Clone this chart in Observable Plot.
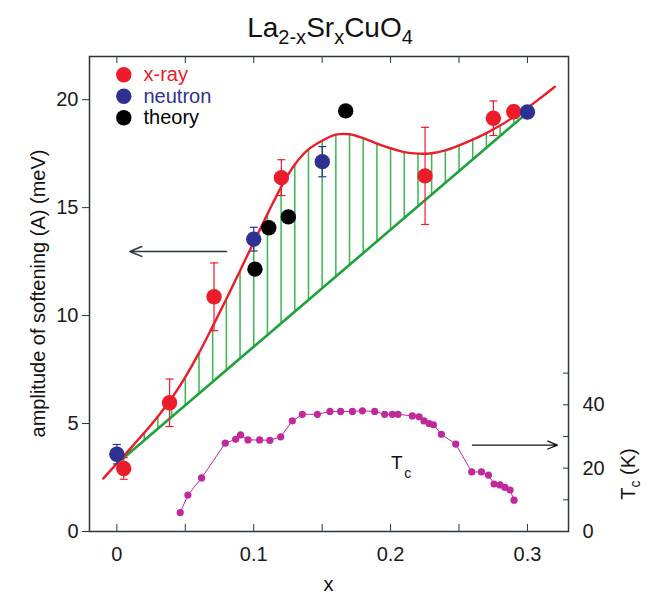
<!DOCTYPE html>
<html><head><meta charset="utf-8">
<script src="https://cdn.jsdelivr.net/npm/d3@7"></script>
<script src="https://cdn.jsdelivr.net/npm/@observablehq/plot@0.6"></script>
<style>
html,body{margin:0;padding:0;background:#fff;}
#chart{width:650px;height:594px;}
</style></head><body><div id="chart"></div>
<script>
const FONT = "'Liberation Sans', Arial, Helvetica, sans-serif";
const RED = "#ec1c2a", BLUE = "#2e3192", GREEN = "#1fa23c", HATCH = "#3db54e", MAGENTA = "#c0289b", AXIS = "#2a3538";

// x-ray data (amplitude of softening, meV) with error bars
const xrayX = [0.005, 0.0385, 0.071, 0.1202, 0.2252, 0.2751, 0.290];
const xrayY = [2.92, 5.96, 10.87, 16.39, 16.47, 19.14, 19.44];
const xrayErr = [0.5, 1.1, 1.57, 0.83, 2.25, 0.8, 0.3];
// neutron data
const neutronX = [0.0, 0.1, 0.1501, 0.300];
const neutronY = [3.58, 13.54, 17.13, 19.43];
const neutronErr = [0.45, 0.55, 0.7, 0];
// theory
const theoryX = [0.1009, 0.111, 0.1253, 0.1672];
const theoryY = [12.15, 14.07, 14.57, 19.48];
// red fitted curve
const fitX = [-0.01, 0.00, 0.01, 0.02, 0.03, 0.04, 0.05, 0.06, 0.07, 0.08, 0.09, 0.10, 0.11, 0.12, 0.13, 0.14, 0.15, 0.16, 0.17, 0.18, 0.19, 0.20, 0.21, 0.22, 0.23, 0.24, 0.25, 0.26, 0.27, 0.28, 0.29, 0.30, 0.31, 0.32];
const fitY = [2.45, 3.15, 3.85, 4.57, 5.33, 6.17, 7.15, 8.27, 9.5, 10.77, 12.08, 13.4, 14.7, 15.95, 17.0, 17.7, 18.1, 18.38, 18.4, 18.22, 17.97, 17.75, 17.57, 17.5, 17.52, 17.65, 17.88, 18.15, 18.45, 18.8, 19.2, 19.62, 20.1, 20.6];
// green straight baseline (end points)
const baseX = [0.003, 0.300];
const baseY = [3.3, 19.4];
// Tc (K) vs x
const tcX = [0.0463, 0.0519, 0.0619, 0.0792, 0.0868, 0.0904, 0.0958, 0.1043, 0.1118, 0.1197, 0.1282, 0.1355, 0.1465, 0.1557, 0.1635, 0.1721, 0.1794, 0.1884, 0.1957, 0.2013, 0.2054, 0.2159, 0.2208, 0.2244, 0.2281, 0.2313, 0.2371, 0.2476, 0.2593, 0.2664, 0.2715, 0.2756, 0.2800, 0.2836, 0.2873, 0.2902];
const tcK = [6.0, 11.5, 16.9, 27.9, 29.1, 30.5, 28.9, 28.9, 28.8, 29.9, 34.9, 37.0, 37.0, 37.9, 37.9, 37.9, 38.1, 37.9, 37.0, 37.0, 37.0, 36.5, 36.2, 34.9, 34.1, 33.7, 30.7, 27.6, 18.8, 18.8, 17.8, 15.0, 14.7, 13.9, 13.1, 9.9];
// axes ticks
const xTicks = [0, 0.05, 0.1, 0.15, 0.2, 0.25, 0.3];
const xLabelTicks = [0, 0.1, 0.2, 0.3];
const yTicks = [0, 5, 10, 15, 20];
const tcTicks = [0, 10, 20, 30, 40, 50];
const tcLabelTicks = [0, 20, 40];
// legend
const legendLabels = ["x-ray", "neutron", "theory"];
const legendColors = [RED, BLUE, "#000"];
// annotations
const arrowLeft = {x1: 0.0802, x2: 0.0095, y: 12.97};
const arrowRight = {x1: 0.2598, x2: 0.3219, k: 27.3};
const tcLabel = {x: 0.2045, k: 21.6};

// twin-axis mapping: meV per K on the shared vertical scale
const MEV_PER_K = 0.1467;

const xray = xrayX.map((x, i) => ({x, y: xrayY[i], e: xrayErr[i]}));
const neutron = neutronX.map((x, i) => ({x, y: neutronY[i], e: neutronErr[i]}));
const theory = theoryX.map((x, i) => ({x, y: theoryY[i]}));
const fit = fitX.map((x, i) => ({x, y: fitY[i]}));
const base = baseX.map((x, i) => ({x, y: baseY[i]}));
const baseAt = x => baseY[0] + (x - baseX[0]) * (baseY[1] - baseY[0]) / (baseX[1] - baseX[0]);
const hatch = fit.filter(d => d.x >= 0.0099 && d.x <= 0.2901).map(d => ({x: d.x, lo: baseAt(d.x), hi: d.y}));
const tc = tcX.map((x, i) => ({x, y: tcK[i] * MEV_PER_K}));

const cap = {draw(ctx, size) { const w = Math.sqrt(size / Math.PI); ctx.moveTo(-w, 0); ctx.lineTo(w, 0); }};
function errorMarks(data, color) {
  const d = data.filter(p => p.e > 0);
  return [
    Plot.ruleX(d, {x: "x", y1: p => p.y - p.e, y2: p => p.y + p.e, stroke: color, strokeWidth: 1.2}),
    Plot.dot(d, {x: "x", y: p => p.y + p.e, symbol: cap, r: 4, stroke: color, strokeWidth: 1.2, fill: "none"}),
    Plot.dot(d, {x: "x", y: p => p.y - p.e, symbol: cap, r: 4, stroke: color, strokeWidth: 1.2, fill: "none"})
  ];
}

const chart = Plot.plot({
  width: 650, height: 594,
  marginLeft: 89, marginRight: 82, marginTop: 56, marginBottom: 63,
  x: {domain: [-0.02, 0.33]},
  y: {domain: [0, 22]},
  style: {fontFamily: FONT, fontSize: "20px", color: "#1a1a1a", background: "white"},
  marks: [
    Plot.ruleX(hatch, {x: "x", y1: "lo", y2: "hi", stroke: HATCH, strokeWidth: 1.5}),
    Plot.line(base, {x: "x", y: "y", stroke: GREEN, strokeWidth: 2.6}),
    Plot.line(fit, {x: "x", y: "y", stroke: RED, strokeWidth: 2.4, curve: "catmull-rom"}),
    Plot.line(tc, {x: "x", y: "y", stroke: MAGENTA, strokeWidth: 1}),
    Plot.dot(tc, {x: "x", y: "y", r: 3.6, fill: MAGENTA}),
    ...errorMarks(xray, RED),
    ...errorMarks(neutron, BLUE),
    Plot.dot(xray, {x: "x", y: "y", r: 7.7, fill: RED}),
    Plot.dot(neutron, {x: "x", y: "y", r: 7.7, fill: BLUE}),
    Plot.dot(theory, {x: "x", y: "y", r: 7.7, fill: "#000"}),
    // arrows
    Plot.arrow([arrowLeft], {x1: "x1", x2: "x2", y1: "y", y2: "y", stroke: "#2d3b3c", strokeWidth: 1.6, headLength: 12, headAngle: 45}),
    Plot.arrow([arrowRight], {x1: "x1", x2: "x2", y1: d => d.k * MEV_PER_K, y2: d => d.k * MEV_PER_K, stroke: "#111", strokeWidth: 1.3, headLength: 12, headAngle: 45}),
    // Tc label
    Plot.text([tcLabel], {x: "x", y: d => d.k * MEV_PER_K, text: () => "T", fontSize: 19, fill: "#111", lineAnchor: "middle"}),
    Plot.text([tcLabel], {x: "x", y: d => d.k * MEV_PER_K, text: () => "c", fontSize: 14, fill: "#111", dx: 11, dy: 10, lineAnchor: "middle"}),
    // legend
    ...legendLabels.map((lab, i) => Plot.dot([lab], {frameAnchor: "top-left", dx: 34.3, dy: 18.3 + i * 21.5, r: 7.7, fill: legendColors[i]})),
    ...legendLabels.map((lab, i) => Plot.text([lab], {frameAnchor: "top-left", dx: 54, dy: 18.3 + i * 21.5, text: d => d, fill: legendColors[i], fontSize: 20, textAnchor: "start", lineAnchor: "middle"})),
    // axes
    Plot.axisX({anchor: "bottom", ticks: xTicks, tickSize: -7, tickFormat: () => "", label: null, stroke: AXIS}),
    Plot.axisX({anchor: "top", ticks: xTicks, tickSize: -6, tickFormat: () => "", label: null, stroke: AXIS}),
    Plot.axisX({anchor: "bottom", ticks: xLabelTicks, tickSize: 0, tickPadding: 15, tickFormat: d => String(d), label: null, fontSize: 20}),
    Plot.axisY({anchor: "left", ticks: yTicks, tickSize: 7, tickPadding: 4, tickFormat: d => String(d), label: null, fontSize: 20, stroke: AXIS}),
    Plot.axisY({anchor: "right", ticks: tcTicks.map(k => k * MEV_PER_K), tickSize: -6, tickFormat: () => "", label: null, stroke: AXIS}),
    Plot.axisY({anchor: "right", ticks: tcLabelTicks.map(k => k * MEV_PER_K), tickSize: 0, tickPadding: 14, tickFormat: v => String(Math.round(v / MEV_PER_K)), label: null, fontSize: 20}),
    Plot.frame({stroke: AXIS, strokeWidth: 1.5})
  ]
});

const svg = d3.select(chart);
// title
const t = svg.append("text").attr("x", 330).attr("y", 37).attr("text-anchor", "middle")
  .attr("font-family", FONT).attr("font-size", 28).attr("fill", "#111");
t.append("tspan").text("La");
t.append("tspan").attr("dy", 7).attr("font-size", 20).text("2-x");
t.append("tspan").attr("dy", -7).text("Sr");
t.append("tspan").attr("dy", 7).attr("font-size", 20).text("x");
t.append("tspan").attr("dy", -7).text("CuO");
t.append("tspan").attr("dy", 7).attr("font-size", 20).text("4");
// x label
svg.append("text").attr("x", 328.5).attr("y", 591).attr("text-anchor", "middle")
  .attr("font-family", FONT).attr("font-size", 20).attr("fill", "#111").text("x");
// left y label
svg.append("text").attr("transform", "translate(45,293.5) rotate(-90)").attr("text-anchor", "middle")
  .attr("font-family", FONT).attr("font-size", 20).attr("fill", "#111").text("amplitude of softening (A) (meV)");
// right y label
const r = svg.append("text").attr("transform", "translate(635,474) rotate(-90)").attr("text-anchor", "middle")
  .attr("font-family", FONT).attr("font-size", 20).attr("fill", "#111");
r.append("tspan").text("T");
r.append("tspan").attr("dy", 5).attr("font-size", 14).text("c");
r.append("tspan").attr("dy", -5).text(" (K)");

document.getElementById("chart").appendChild(chart);
</script></body></html>
